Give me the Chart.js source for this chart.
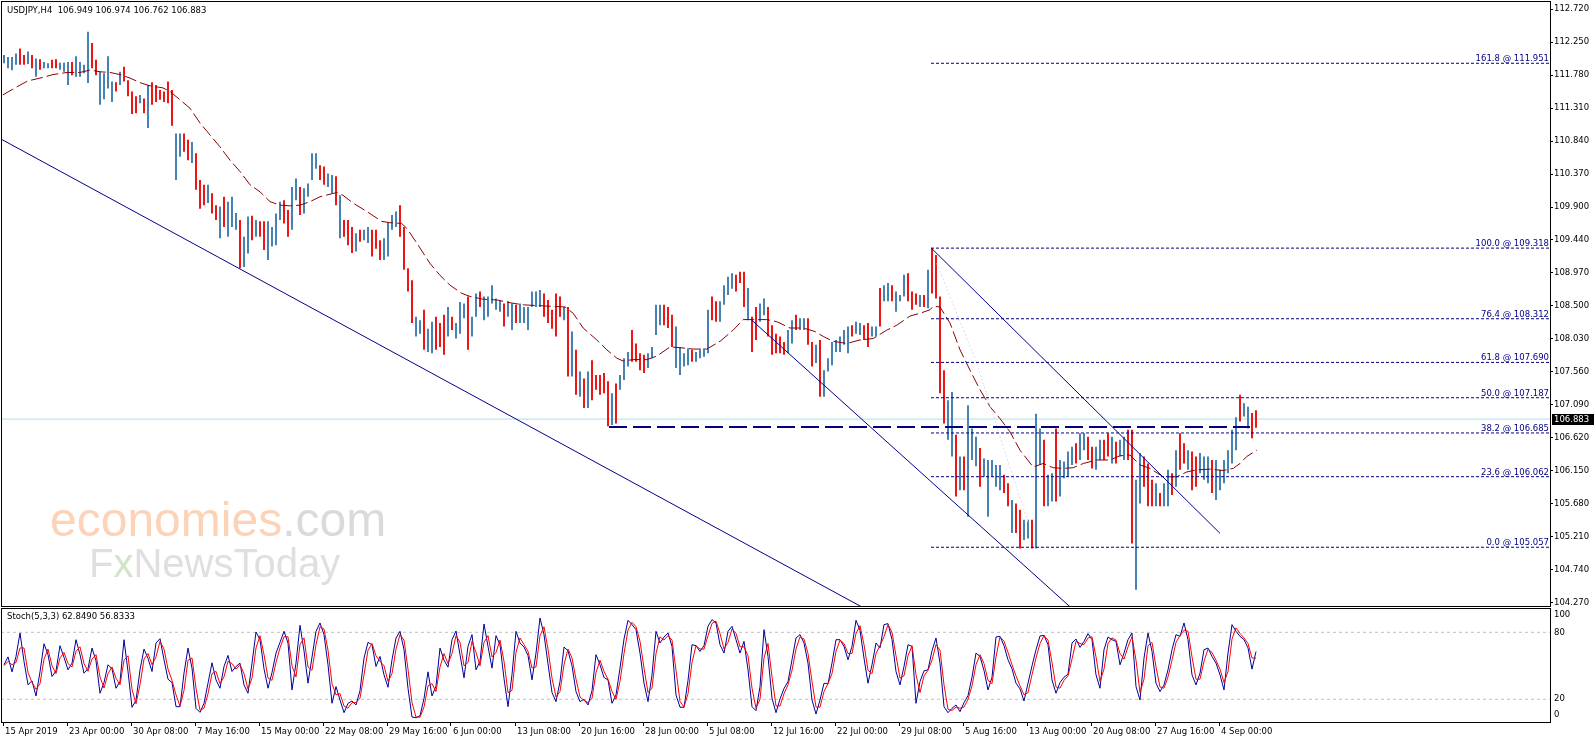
<!DOCTYPE html>
<html><head><meta charset="utf-8">
<script src="https://cdn.jsdelivr.net/npm/chart.js@4.4.1/dist/chart.umd.min.js"></script>
<style>
html,body{margin:0;padding:0;background:#fff;overflow:hidden;}
#wrap{position:relative;width:1596px;height:743px;background:#fff;}
#main{position:absolute;left:0;top:0;}
#stoch{position:absolute;left:0;top:608px;}
</style></head><body>
<div id="wrap"><canvas id="main" width="1596" height="608"></canvas><canvas id="stoch" width="1596" height="135"></canvas></div>
<script>
// ---------- DATA ----------
const chartTitle = 'USDJPY,H4  106.949 106.974 106.762 106.883';
const stochTitle = 'Stoch(5,3,3) 62.8490 56.8333';
const currentPrice = 106.883;

const barHigh = [112.07,112.04,112.04,112.09,112.16,112.07,112.12,112.07,112.02,112.01,
111.97,111.95,112.00,112.01,111.96,111.96,111.97,111.97,112.05,111.97,
111.93,112.40,112.24,112.00,111.83,111.81,112.05,111.69,111.68,111.83,
111.90,111.71,111.55,111.48,111.50,111.45,111.64,111.68,111.64,111.57,
111.55,111.69,111.57,110.95,110.95,110.95,110.86,110.83,110.67,110.29,
110.22,110.22,110.10,109.93,109.91,110.05,109.98,110.05,109.82,109.72,
109.48,109.77,109.78,109.72,109.70,109.70,109.70,109.62,109.81,109.98,
110.00,109.86,110.19,110.31,110.19,110.17,110.24,110.67,110.67,110.50,
110.48,110.38,110.36,110.34,110.07,109.72,109.72,109.62,109.53,109.58,
109.58,109.62,109.58,109.58,109.43,109.46,109.69,109.79,109.84,109.93,
109.62,109.03,108.86,108.34,108.29,108.44,108.17,108.27,108.34,108.25,
108.37,108.48,108.34,108.25,108.55,108.53,108.63,108.34,108.67,108.70,
108.63,108.63,108.79,108.60,108.58,108.53,108.56,108.53,108.51,108.53,
108.48,108.48,108.70,108.70,108.72,108.67,108.58,108.44,108.67,108.63,
108.48,108.48,108.13,107.87,107.56,107.46,107.56,107.72,107.51,107.51,
107.54,107.42,107.25,107.39,107.51,107.75,107.84,108.15,107.96,107.82,
107.80,107.82,107.91,108.51,108.51,108.51,108.48,108.37,108.20,107.91,
107.82,107.89,107.87,107.84,107.87,107.89,108.44,108.63,108.56,108.56,
108.79,108.91,108.96,108.94,108.98,108.98,108.75,108.34,108.48,108.53,
108.60,108.48,108.22,108.10,108.06,107.98,108.15,108.29,108.37,108.32,
108.32,108.32,107.98,107.94,108.01,107.58,107.75,107.98,108.01,108.06,
108.15,108.20,108.22,108.27,108.25,108.22,108.25,108.20,108.20,108.75,
108.79,108.82,108.79,108.70,108.65,108.94,108.96,108.70,108.67,108.65,
108.65,109.01,109.32,109.22,108.63,107.58,107.15,107.27,106.66,106.35,
106.35,107.08,106.75,106.63,106.47,106.32,106.30,106.30,106.23,106.23,
106.09,105.97,105.73,105.68,105.59,105.45,105.45,105.45,106.96,106.75,
106.59,106.09,106.11,106.75,106.30,106.28,106.42,106.49,106.54,106.68,
106.68,106.63,106.49,106.49,106.59,106.59,106.68,106.63,106.56,106.59,
106.63,106.73,106.73,106.02,106.40,106.35,106.25,106.02,105.97,105.83,
105.97,106.16,106.11,106.44,106.68,106.54,106.44,106.42,106.35,106.40,
106.35,106.35,106.30,106.30,106.16,106.30,106.44,106.73,106.91,107.23,
107.11,107.06,106.97,107.01];

const barLow = [111.95,111.88,111.85,111.93,111.93,111.93,111.94,111.88,111.76,111.86,
111.88,111.88,111.88,111.88,111.86,111.83,111.64,111.78,111.76,111.76,
111.81,111.67,111.88,111.78,111.36,111.44,111.59,111.40,111.55,111.64,
111.69,111.48,111.23,111.24,111.38,111.24,111.03,111.36,111.40,111.43,
111.40,111.38,111.06,110.29,110.62,110.69,110.57,110.53,110.15,109.88,
109.93,109.96,109.81,109.72,109.46,109.62,109.48,109.62,109.58,109.03,
109.05,109.24,109.43,109.48,109.48,109.29,109.15,109.34,109.36,109.72,
109.67,109.48,109.58,110.00,109.79,109.81,110.05,110.29,110.45,110.29,
110.22,110.19,110.10,109.93,109.46,109.48,109.36,109.25,109.27,109.41,
109.43,109.39,109.20,109.31,109.15,109.15,109.20,109.58,109.62,109.48,
109.01,108.70,108.25,108.06,108.10,107.87,107.84,107.82,107.87,107.91,
107.80,108.06,108.15,108.03,108.10,108.32,107.87,108.06,108.34,108.48,
108.29,108.34,108.53,108.44,108.41,108.20,108.34,108.15,108.25,108.25,
108.25,108.15,108.48,108.48,108.48,108.34,108.25,108.17,108.06,108.34,
108.29,107.49,107.49,107.23,107.20,107.04,107.04,107.15,107.30,107.23,
107.25,106.78,106.80,106.82,107.30,107.44,107.63,107.70,107.70,107.58,
107.54,107.61,107.75,108.08,108.22,108.22,108.18,107.91,107.61,107.51,
107.63,107.65,107.70,107.70,107.75,107.77,107.82,108.29,108.27,108.27,
108.51,108.65,108.74,108.70,108.82,108.48,108.29,107.84,108.01,108.27,
108.36,108.06,107.80,107.82,107.82,107.80,107.82,107.96,108.15,108.15,
108.15,107.94,107.63,107.68,107.20,107.20,107.56,107.65,107.84,107.84,
107.94,107.82,108.06,108.10,108.08,108.01,107.91,108.06,108.06,108.20,
108.56,108.56,108.56,108.41,108.56,108.63,108.56,108.44,108.51,108.48,
108.48,108.46,108.67,108.60,107.25,106.82,106.59,106.35,105.78,105.87,
105.87,105.49,106.30,106.21,105.92,106.06,105.49,106.06,105.92,105.87,
105.83,105.64,105.26,105.26,105.04,105.16,105.18,105.04,105.04,106.23,
105.64,105.64,105.71,105.71,105.78,106.04,106.06,106.23,106.25,106.30,
106.44,106.30,106.18,106.16,106.30,106.30,106.35,106.25,106.25,106.35,
106.30,106.30,105.11,104.45,105.68,105.92,105.64,105.64,105.64,105.64,
105.64,105.64,105.80,105.92,106.16,106.25,106.16,105.87,105.92,106.11,
106.02,105.97,105.83,105.73,105.87,105.97,106.11,106.25,106.44,106.85,
106.92,106.75,106.61,106.76];

const barUp = [1,1,1,1,0,0,1,0,1,0, 1,1,0,0,1,1,1,0,1,1, 1,1,0,0,1,1,1,1,0,1, 0,0,0,0,1,0,1,0,0,0,
0,0,0,1,1,0,0,1,0,0, 0,1,0,0,1,0,1,1,1,0, 1,1,0,1,0,0,1,1,1,1, 0,0,1,1,0,1,1,1,1,0,
0,1,1,0,1,0,0,0,1,0, 1,1,0,0,0,1,1,1,1,0, 0,0,0,1,1,0,1,1,0,0, 0,1,0,1,1,1,0,1,1,0,
1,1,1,1,1,0,1,1,0,1, 1,1,1,1,1,0,0,0,0,0, 1,0,1,0,1,0,1,0,0,0, 0,0,1,0,1,1,1,0,0,0,
0,1,1,1,1,0,0,0,1,1, 1,1,0,1,1,1,1,0,0,1, 1,1,1,0,0,0,1,0,0,1, 1,0,0,0,0,0,1,1,0,1,
1,0,0,1,0,1,1,1,1,1, 1,1,0,1,1,0,0,1,1,0, 1,1,0,1,1,1,0,0,0,1, 0,1,0,0,0,0,1,1,0,1,
0,1,1,1,0,1,1,1,1,1, 0,0,1,0,0,1,1,0,1,1, 0,1,1,0,1,1,1,1,0,1, 1,0,0,1,1,0,0,1,0,1,
1,0,0,1,1,0,0,0,1,0, 1,1,0,1,0,0,1,0,0,1, 1,1,0,1,1,1,1,1,1,0, 1,1,0,0];

// moving average (sparse readings: bar index, price)
const maIdx = [-0.3,4,6,9.75,12.25,15.75,19,21.5,24,26.5,29,31.5,34,36.5,39.75,41.5,44,46.5,49,51.5,
54,56.5,59,61.5,64,66.5,69,71.5,74,76.5,79,83.2,84.75,87.25,90.7,94.4,96.5,99.4,100.7,103.2,
106.5,109,111.5,114.4,116.5,119.8,123.2,126.5,129.8,133.2,136.5,140.25,142.3,144.8,148.2,150.7,153.2,154.8,157.3,160.7,
163.2,166.5,169,172.3,175.7,179,182.3,184.8,187.3,190.7,193.2,196.5,199.8,202.75,204.8,207.3,210.7,214,217.3,220.7,
223.2,226.5,229,231.5,232.3,234,236.5,239,241.5,244,246.5,249,251.5,254,257.3,259.8,262.3,264.8,267.3,269.8,
273.2,276.5,279,281.5,284,286.5,289.8,293.2,295.7,298.2,301.5,304.8,307.3,309,310.7,313.2];
const maVal = [111.50,111.64,111.70,111.75,111.79,111.82,111.82,111.855,111.83,111.82,111.79,111.74,111.675,111.63,111.60,111.55,111.43,111.31,111.10,110.93,
110.76,110.57,110.41,110.22,110.12,109.98,109.93,109.92,109.93,109.98,110.05,110.11,110.07,109.96,109.84,109.70,109.68,109.67,109.60,109.39,
109.10,108.93,108.79,108.675,108.63,108.59,108.58,108.54,108.51,108.50,108.49,108.48,108.39,108.18,108.01,107.87,107.75,107.71,107.73,107.73,
107.78,107.91,107.90,107.88,107.88,107.99,108.15,108.30,108.30,108.30,108.27,108.18,108.18,108.13,108.06,107.99,107.96,108.01,108.03,108.15,
108.22,108.35,108.39,108.44,108.49,108.48,108.25,107.87,107.58,107.30,107.06,106.89,106.70,106.44,106.20,106.25,106.19,106.18,106.19,106.25,
106.30,106.30,106.36,106.37,106.23,106.18,106.06,106.06,106.13,106.16,106.17,106.15,106.18,106.25,106.35,106.44];

const stochMain = [51,58,44.6,58.4,79.4,54,33,36.5,23,44.6, 69.8,60,40.4,45.5,68,57.5,46.4,52.4,73.4,60,
43.4,47.6,65.9,54.5,25.4,35,50.9,47.3,29.9,35.9, 73.4,44.9,12.8,19.1,46.4,65,56.6,44.9,70.4,74.3,
55.4,38,35,13.4,13.4,43.4,65.9,47.9,11.9,8.3, 16.4,34.4,52.7,37.4,29.9,49.4,59.3,44.9,49.4,52.4,
32.9,25.4,52.4,80.3,73.4,47.3,29.9,44,61.4,71, 80.9,70.4,28.4,52.4,86.3,63.5,34.4,57.8,80.9,88.4,
77.9,50.9,16.4,31.4,19.4,8,16.4,18.5,14.9,27.8, 56.9,71,68.9,49.4,58.4,41.9,30.8,55.4,74.9,80.9,
64.4,29.9,4.1,3.5,5.3,20.6,44.6,23,31.8,65.9, 55.1,48.8,73.4,81.2,60,39.2,67.4,77.9,46.4,53.9,
87.5,67.4,47.9,77,68.9,38.6,13.4,42.2,80.9,70.4, 66.8,59.3,37.4,61.4,92.9,77.9,51.8,26,17.9,35.9,
66.8,63.5,50,26.9,17.9,20,14.9,27.8,60,50.9, 39.5,37.4,16.4,23.9,47.9,74,90.8,86.9,82.4,61.4,
34.4,17.9,41.9,80.9,70.4,75.8,79.4,67.4,23.9,12.9, 12.8,36.8,68.9,68,62.9,68,85.4,91.4,88.4,68.9,
61.4,80.9,85.4,73.4,61.4,71.9,46.4,13.4,9.8,31.4, 82.4,58.4,20.9,8,20.3,29.6,35.9,55.4,74.9,77.9,
70.4,52.4,19.4,6.8,19.4,34.4,33.8,52.4,73.4,73.4, 67.4,55.4,67.4,90.8,81.8,56.9,34.4,50.9,70.4,65.9,
86.9,87.8,73.4,44.9,32.9,49.4,68.9,67.4,16.4,35.9, 45.5,46.4,63.5,74.9,52.4,13.4,8,11.9,14.9,8.9,
17,23.3,39.8,61.4,58.4,45.8,28.4,39.8,75.8,76.4, 68,55.4,47.3,34.4,29.3,18.5,34.4,50,64.4,76.7,
77.3,68.9,37.4,25.4,35,39.8,42.5,70.4,74,66.5, 71.9,78.8,73.4,41.9,29.9,64.4,75.8,73.4,71.9,50.9,
61.4,73.4,79.4,31.4,19.4,56.9,79.4,62.9,34.4,26.9, 32.9,46.4,64.4,77.9,76.4,88.4,73.4,41.9,32.9,43.4,
64.4,65.9,58.4,52.4,41.9,28.4,61.4,86.9,80.9,76.4, 73.4,66,47,62.8];

const stochSignal = [50,54,51,53,66,66,44,35,29,34, 56,65,50,43,57,62,52,49,63,67,
52,45,56,60,40,30,43,49,39,33, 55,59,29,16,33,56,61,51,58,72,
65,47,37,24,14,28,55,57,30,10, 12,25,43,45,34,40,54,52,47,51,
43,29,39,66,77,60,39,37,53,66, 76,76,50,40,69,75,49,46,69,85,
83,64,34,24,25,14,12,17,17,21, 42,64,70,59,54,50,36,43,65,78,
73,47,17,4,4,13,32,34,27,49, 61,52,61,77,71,50,53,72,62,50,
71,77,58,62,73,54,26,28,62,75, 69,63,48,49,77,85,65,39,22,27,
51,65,57,38,22,19,17,21,44,55, 45,38,27,20,36,61,82,89,85,72,
48,26,30,61,76,73,77,73,46,18, 13,25,53,68,65,65,77,88,90,79,
65,71,83,79,67,67,59,30,12,20, 57,70,40,14,14,25,33,46,65,76,
74,61,36,13,13,27,34,43,63,73, 70,61,61,79,86,69,46,43,61,68,
76,87,80,59,39,41,59,68,42,26, 41,46,55,69,64,33,11,10,13,12,
13,20,32,51,60,52,37,34,58,76, 72,62,51,41,32,24,26,42,57,70,
77,73,53,31,30,37,41,56,72,70, 69,75,76,58,36,47,70,75,73,61,
56,67,76,55,26,38,68,71,49,31, 30,40,55,71,77,82,81,58,38,38,
54,65,62,55,47,35,45,74,84,79, 75,70,57,56.8];

// Fibonacci retracement
const fibLevels = [161.8, 100.0, 76.4, 61.8, 50.0, 38.2, 23.6, 0.0];
const fibPrices = [111.951, 109.318, 108.312, 107.690, 107.187, 106.685, 106.062, 105.057];
const fibStartIdx = 231.75;
// support line (long dashes)
const supportPrice = 106.77;
const supportStartIdx = 151.25, supportEndIdx = 311.5;
// trend lines (bar index, price)
const trendLongIdx = [-1, 225], trendLongPrice = [110.879, 103.88];
const chanUpperIdx = [231.9, 304], chanUpperPrice = [109.315, 105.255];
const chanLowerIdx = [186.9, 270], chanLowerPrice = [108.294, 104.03];
const guideIdx = [233.2, 243.2, 249.8, 256.1], guidePrice = [109.10, 107.68, 106.49, 105.40];

// axes
const priceTicks = [104.27,104.74,105.21,105.68,106.15,106.62,107.09,107.56,108.03,108.5,108.97,109.44,109.9,110.37,110.84,111.31,111.78,112.25,112.72];
const timeLabels = ['15 Apr 2019','23 Apr 00:00','30 Apr 08:00','7 May 16:00','15 May 00:00','22 May 08:00','29 May 16:00','6 Jun 00:00','13 Jun 08:00','20 Jun 16:00','28 Jun 00:00','5 Jul 08:00','12 Jul 16:00','22 Jul 00:00','29 Jul 08:00','5 Aug 16:00','13 Aug 00:00','20 Aug 08:00','27 Aug 16:00','4 Sep 00:00'];
const stochLevels = [100, 80, 20, 0];

// ---------- STYLE ----------
const FONT = '"DejaVu Sans", Verdana, sans-serif';
const FS = 8.5;
const X_MIN = -0.75, X_MAX = 386.5;
const NAVY = '#000080';
Chart.defaults.font.family = FONT;
Chart.defaults.font.size = FS;
Chart.defaults.color = '#000';

const pts = (xs, ys) => xs.map((x, i) => ({x: x, y: ys[i]}));
const lineDs = (data, color, width, dash, order) => ({
  type: 'line', data: data, borderColor: color, borderWidth: width, borderDash: dash || [],
  pointRadius: 0, fill: false, tension: 0, order: order, spanGaps: true
});

const mainDatasets = [];
fibPrices.forEach(p => mainDatasets.push(lineDs([{x: fibStartIdx, y: p}, {x: X_MAX, y: p}], NAVY, 1, [3, 2], 1)));
mainDatasets.push(lineDs([{x: supportStartIdx, y: supportPrice}, {x: supportEndIdx, y: supportPrice}], NAVY, 2, [18, 6], 1));
mainDatasets.push(lineDs(pts(trendLongIdx, trendLongPrice), '#00008b', 1, [], 2));
mainDatasets.push(lineDs(pts(chanUpperIdx, chanUpperPrice), '#00008b', 1, [], 2));
mainDatasets.push(lineDs(pts(chanLowerIdx, chanLowerPrice), '#00008b', 1, [], 2));
mainDatasets.push(lineDs(pts(guideIdx, guidePrice), '#dcdaf2', 1, [2, 2], 3));
mainDatasets.push(lineDs(pts(maIdx, maVal), '#8b0000', 1, [12, 4], 4));
mainDatasets.push({
  type: 'bar', order: 5, grouped: false, barThickness: 2, inflateAmount: 0, borderWidth: 0,
  data: barHigh.map((h, j) => ({x: j, y: [barLow[j], h]})),
  backgroundColor: barUp.map(u => u ? '#4682b4' : '#f01414')
});
mainDatasets.push(lineDs([{x: X_MIN, y: currentPrice}, {x: X_MAX, y: currentPrice}], '#ace0e6', 1, [], 10));

const mainPlugin = {
  id: 'mt4main',
  beforeDatasetsDraw(chart) {
    const ctx = chart.ctx;
    ctx.save();
    ctx.textBaseline = 'alphabetic';
    ctx.textAlign = 'left';
    ctx.font = '48px "Liberation Sans", Arial, sans-serif';
    ctx.fillStyle = '#fcd3b7';
    ctx.fillText('economies', 50, 536);
    const w = ctx.measureText('economies').width;
    ctx.fillStyle = '#dadada';
    ctx.fillText('.com', 50 + w, 536);
    ctx.font = '40px "Liberation Sans", Arial, sans-serif';
    let x = 89;
    ctx.fillStyle = '#dfdfdf'; ctx.fillText('F', x, 577); x += ctx.measureText('F').width;
    ctx.fillStyle = '#cfe5c9'; ctx.fillText('x', x, 577); x += ctx.measureText('x').width;
    ctx.fillStyle = '#dfdfdf'; ctx.fillText('NewsToday', x, 577);
    ctx.restore();
  },
  afterDatasetsDraw(chart) {
    const ctx = chart.ctx, a = chart.chartArea, ys = chart.scales.y;
    ctx.save();
    ctx.font = FS + 'px ' + FONT;
    ctx.fillStyle = NAVY;
    ctx.textAlign = 'right';
    ctx.textBaseline = 'alphabetic';
    fibPrices.forEach((p, i) => {
      const y = ys.getPixelForValue(p);
      ctx.fillText(fibLevels[i].toFixed(1) + ' @ ' + p.toFixed(3), a.right - 1, y - 2);
    });
    ctx.restore();
  },
  afterDraw(chart) {
    const ctx = chart.ctx, a = chart.chartArea, ys = chart.scales.y;
    ctx.save();
    ctx.strokeStyle = '#000'; ctx.lineWidth = 1;
    ctx.strokeRect(a.left + 0.5, a.top + 0.5, a.right - a.left, a.bottom - a.top - 1);
    ctx.font = FS + 'px ' + FONT;
    ctx.fillStyle = '#000';
    ctx.textAlign = 'left'; ctx.textBaseline = 'middle';
    ctx.fillText(chartTitle, 7, 11);
    const py = ys.getPixelForValue(currentPrice);
    ctx.fillRect(a.right + 2, Math.round(py) - 5, 42, 11);
    ctx.fillStyle = '#fff';
    ctx.fillText(currentPrice.toFixed(3), a.right + 4, Math.round(py) + 0.5);
    ctx.restore();
  }
};

new Chart(document.getElementById('main'), {
  data: {datasets: mainDatasets},
  options: {
    responsive: false, animation: false, devicePixelRatio: 1, events: [],
    layout: {padding: {left: 1, top: 1, right: 0, bottom: 1}},
    plugins: {legend: {display: false}, tooltip: {enabled: false}},
    scales: {
      x: {type: 'linear', min: X_MIN, max: X_MAX, offset: false, display: false},
      y: {
        type: 'linear', position: 'right', min: 104.206, max: 112.838,
        afterBuildTicks: s => { s.ticks = priceTicks.map(v => ({value: v})); },
        afterFit: s => { s.width = 46; s.paddingTop = 0; s.paddingBottom = 0; },
        ticks: {callback: v => Number(v).toFixed(3), color: '#000', padding: 1, autoSkip: false, font: {family: FONT, size: FS}},
        grid: {drawOnChartArea: false, drawTicks: true, tickLength: 3, color: '#000', lineWidth: 1},
        border: {display: false}
      }
    }
  },
  plugins: [mainPlugin]
});

const stochPlugin = {
  id: 'mt4stoch',
  afterDraw(chart) {
    const ctx = chart.ctx, a = chart.chartArea, ys = chart.scales.y;
    ctx.save();
    ctx.strokeStyle = '#000'; ctx.lineWidth = 1;
    ctx.strokeRect(a.left + 0.5, a.top - 0.5, a.right - a.left, a.bottom - a.top + 1);
    ctx.font = FS + 'px ' + FONT;
    ctx.fillStyle = '#000';
    ctx.textAlign = 'left'; ctx.textBaseline = 'middle';
    ctx.fillText(stochTitle, 7, 9);
    stochLevels.forEach(v => {
      let y = ys.getPixelForValue(v);
      y = Math.max(a.top + 6, Math.min(a.bottom - 7, y));
      ctx.fillText(String(v), a.right + 4, y);
    });
    ctx.restore();
  }
};

new Chart(document.getElementById('stoch'), {
  data: {datasets: [
    lineDs(stochSignal.map((v, j) => ({x: j, y: v})), '#ff0000', 1, [], 0),
    lineDs(stochMain.map((v, j) => ({x: j, y: v})), '#000099', 1, [], 1),
    lineDs([{x: X_MIN, y: 80}, {x: X_MAX, y: 80}], '#c0c0c0', 1, [3, 3], 5),
    lineDs([{x: X_MIN, y: 20}, {x: X_MAX, y: 20}], '#c0c0c0', 1, [3, 3], 5)
  ]},
  options: {
    responsive: false, animation: false, devicePixelRatio: 1, events: [],
    layout: {padding: {left: 1, top: 1, right: 46, bottom: 0}},
    plugins: {legend: {display: false}, tooltip: {enabled: false}},
    scales: {
      x: {
        type: 'linear', position: 'bottom', min: X_MIN, max: X_MAX, offset: false,
        afterBuildTicks: s => { s.ticks = timeLabels.map((_, k) => ({value: k * 16 - 0.25})); },
        afterFit: s => { s.height = 21; s.paddingLeft = 0; s.paddingRight = 0; },
        ticks: {callback: (v, i) => timeLabels[i], align: 'start', labelOffset: 2, maxRotation: 0, minRotation: 0,
                autoSkip: false, padding: 1, color: '#000', font: {family: FONT, size: FS}},
        grid: {drawOnChartArea: false, drawTicks: true, tickLength: 4, color: '#000', lineWidth: 1},
        border: {display: false}
      },
      y: {type: 'linear', display: false, min: -0.35, max: 100.9}
    }
  },
  plugins: [stochPlugin]
});
</script></body></html>
